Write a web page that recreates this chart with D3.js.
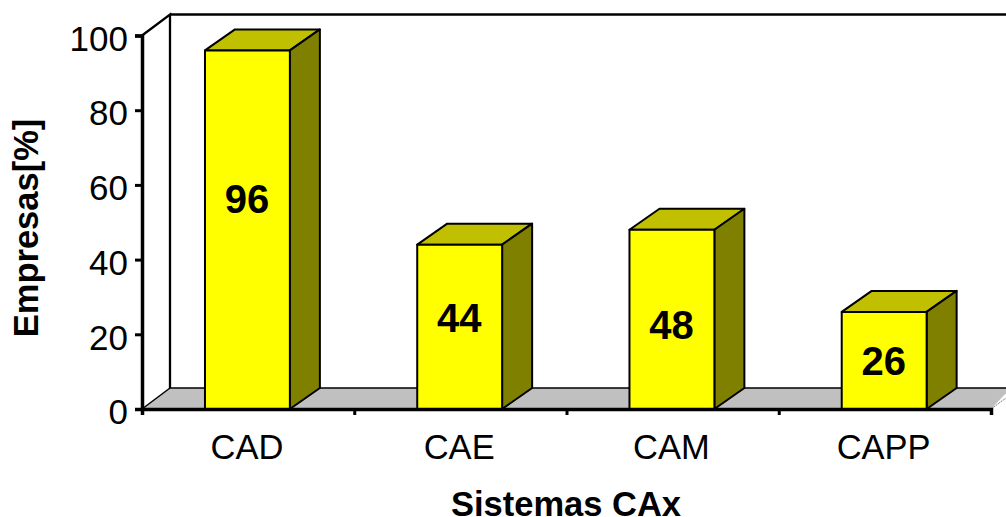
<!DOCTYPE html>
<html>
<head>
<meta charset="utf-8">
<script src="https://cdn.jsdelivr.net/npm/d3@7"></script>
<style>
  html, body { margin: 0; padding: 0; background: #fff; overflow: hidden; }
  svg { display: block; }
  text { font-family: "Liberation Sans", Arial, sans-serif; fill: #000; }
</style>
</head>
<body>
<svg id="chart" width="1006" height="517"></svg>
<script>
const categories = ["CAD", "CAE", "CAM", "CAPP"];
const seriesValues = [96, 44, 48, 26];
// Height on the value axis at which each bar's label is centred
const labelLevels = [56.4, 24.6, 22.7, 13];
const yTicks = [0, 20, 40, 60, 80, 100];
const xTitle = "Sistemas CAx";
const yTitle = "Empresas[%]";

const svg = d3.select("#chart");

// Plot frame and oblique offset of the 3D box
const plotLeft = 142, plotRight = 991, plotBottom = 409, plotTop = 35.5;
const wallDepthX = 28, barDepthX = 30, depthY = 21;
const pageRight = 1006;

const x = d3.scaleBand().domain(categories).range([plotLeft - 0.7, plotRight - 0.7]).paddingInner(0.6).paddingOuter(0.3);
const y = d3.scaleLinear().domain([0, 100]).range([plotBottom, plotTop]);

const pts = a => a.map(p => p.join(",")).join(" ");

// Floor
svg.append("polygon")
  .attr("points", pts([[plotLeft, plotBottom], [plotLeft + wallDepthX, plotBottom - depthY], [pageRight + 5, plotBottom - depthY], [plotRight, plotBottom]]))
  .attr("fill", "#c0c0c0");
svg.append("line")
  .attr("x1", plotRight).attr("y1", plotBottom).attr("x2", pageRight).attr("y2", plotBottom - 11)
  .attr("stroke", "#777").attr("stroke-width", 1).attr("stroke-dasharray", "2,1");

// Back walls
const wall = svg.append("g").attr("fill", "none").attr("stroke", "#000").attr("stroke-width", 2.3);
wall.append("polyline")
  .attr("points", pts([[plotLeft, plotTop], [plotLeft + wallDepthX, plotTop - depthY], [plotLeft + wallDepthX, plotBottom - depthY]]));
wall.append("line")
  .attr("x1", plotLeft + wallDepthX).attr("y1", plotTop - depthY).attr("x2", pageRight).attr("y2", plotTop - depthY);
wall.append("line")
  .attr("x1", plotLeft + wallDepthX).attr("y1", plotBottom - depthY).attr("x2", pageRight).attr("y2", plotBottom - depthY)
  .attr("stroke-width", 1.5);
wall.append("line")
  .attr("x1", plotLeft).attr("y1", plotBottom).attr("x2", plotLeft + wallDepthX).attr("y2", plotBottom - depthY)
  .attr("stroke-width", 1.5);

// Bars: front, top and side faces
const barData = categories.map((c, i) => ({ c, v: seriesValues[i], level: labelLevels[i] }));
const bars = svg.append("g").selectAll("g")
  .data(barData)
  .join("g")
  .attr("stroke", "#000").attr("stroke-width", 2).attr("stroke-linejoin", "round");

bars.append("polygon")
  .attr("fill", "#c0c000")
  .attr("points", d => {
    const a = x(d.c), b = a + x.bandwidth(), t = y(d.v);
    return pts([[a, t], [a + barDepthX, t - depthY], [b + barDepthX, t - depthY], [b, t]]);
  });
bars.append("polygon")
  .attr("fill", "#808000")
  .attr("points", d => {
    const b = x(d.c) + x.bandwidth(), t = y(d.v);
    return pts([[b, t], [b + barDepthX, t - depthY], [b + barDepthX, plotBottom - depthY], [b, plotBottom]]);
  });
bars.append("rect")
  .attr("fill", "#ffff00")
  .attr("x", d => x(d.c))
  .attr("y", d => y(d.v))
  .attr("width", x.bandwidth())
  .attr("height", d => plotBottom - y(d.v));

// Value labels on the front faces
svg.append("g").selectAll("text")
  .data(barData)
  .join("text")
  .attr("x", d => x(d.c) + x.bandwidth() / 2 - 0.5)
  .attr("y", d => y(d.level))
  .attr("dy", "0.36em")
  .attr("text-anchor", "middle")
  .attr("font-size", 40)
  .attr("font-weight", "bold")
  .text(d => d.v);

// Axes
const yAxis = d3.axisLeft(y).tickValues(yTicks).tickSize(7).tickPadding(7);
const gy = svg.append("g").attr("transform", `translate(${plotLeft},0)`).call(yAxis);
const xTickPos = d3.range(categories.length + 1).map(i => plotLeft + i * x.step());
const xLine = d3.scaleLinear().domain([plotLeft, plotRight]).range([plotLeft, plotRight]);
const gx = svg.append("g").attr("transform", `translate(0,${plotBottom})`)
  .call(d3.axisBottom(xLine).tickValues(xTickPos).tickSize(6).tickFormat(""));
[gy, gx].forEach(g => {
  g.selectAll(".domain").attr("stroke", "#000").attr("stroke-width", 3.5);
  g.selectAll(".tick line").attr("stroke", "#000").attr("stroke-width", 3);
});
gy.selectAll("text").attr("font-size", 35).attr("font-family", '"Liberation Sans", Arial, sans-serif').attr("dy", "0.42em");

// Category labels
svg.append("g").selectAll("text")
  .data(categories)
  .join("text")
  .attr("x", d => x(d) + x.bandwidth() / 2 - 0.5)
  .attr("y", 459)
  .attr("text-anchor", "middle")
  .attr("font-size", 34.5)
  .text(d => d);

// Axis titles
svg.append("text")
  .attr("x", 566).attr("y", 516)
  .attr("text-anchor", "middle").attr("font-size", 34.5).attr("font-weight", "bold")
  .text(xTitle);
svg.append("text")
  .attr("transform", "translate(38,228) rotate(-90)")
  .attr("text-anchor", "middle").attr("font-size", 34.5).attr("font-weight", "bold")
  .text(yTitle);
</script>
</body>
</html>
